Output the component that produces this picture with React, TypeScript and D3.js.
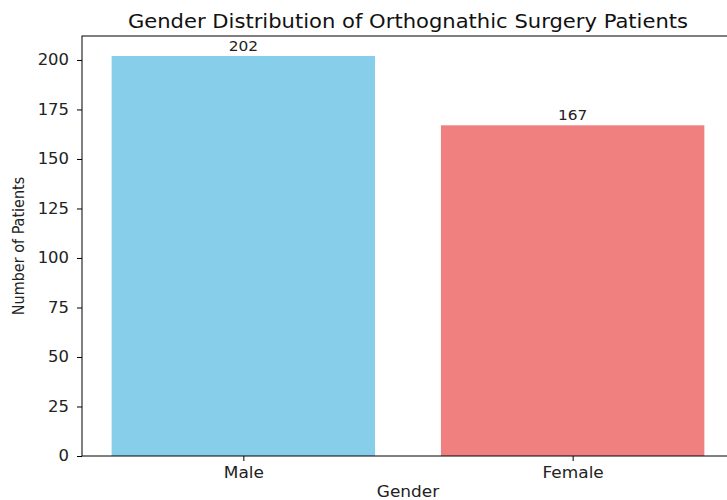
import React, { useEffect, useRef } from 'react';
import * as d3 from 'd3';

const genders = ['Male', 'Female'];
const patientCounts = [202, 167];
const barColors = ['#87CEEB', '#F08080'];
const yTicks = [0, 25, 50, 75, 100, 125, 150, 175, 200];

export default function App() {
  const ref = useRef<SVGSVGElement>(null);

  useEffect(() => {
    const svg = d3.select(ref.current);
    svg.selectAll('*').remove();

    const left = 82;
    const right = 734;
    const top = 36;
    const bottom = 456;
    const font = 'DejaVu Sans, sans-serif';
    const textColor = '#222';
    const stretch = 'scale(1.06,1)'; // the reference text is a bit wide

    // numeric x like matplotlib: bars at 0 and 1, width 0.8
    const x = d3.scaleLinear().domain([-0.49, 1.49]).range([left, right]);
    const y = d3.scaleLinear().domain([0, d3.max(patientCounts)! * 1.05]).range([bottom, top]);

    const g = svg.append('g');

    g.selectAll('rect')
      .data(patientCounts)
      .enter().append('rect')
      .attr('x', (d, i) => x(i - 0.4))
      .attr('width', x(0.4) - x(-0.4))
      .attr('y', d => y(d))
      .attr('height', d => y(0) - y(d))
      .attr('fill', (d, i) => barColors[i]);

    g.selectAll('text.val')
      .data(patientCounts)
      .enter().append('text')
      .attr('class', 'val')
      .attr('transform', (d, i) => `translate(${x(i)},${y(d) - 5}) ${stretch}`)
      .attr('text-anchor', 'middle')
      .attr('font-family', font)
      .attr('font-size', 14.5)
      .attr('fill', textColor)
      .text(d => d);

    // spines
    g.append('rect')
      .attr('x', left)
      .attr('y', top)
      .attr('width', right - left)
      .attr('height', bottom - top)
      .attr('fill', 'none')
      .attr('stroke', '#000')
      .attr('stroke-width', 1);

    const yAxis = g.append('g')
      .attr('transform', `translate(${left},0)`)
      .call(d3.axisLeft(y).tickValues(yTicks).tickSize(5).tickPadding(8));
    yAxis.select('.domain').remove();
    yAxis.selectAll('text').attr('font-family', font).attr('font-size', 15.5).attr('fill', textColor)
      .attr('transform', 'translate(-13,0) scale(1.06,1) translate(13,0)');

    const xAxis = g.append('g')
      .attr('transform', `translate(0,${bottom})`)
      .call(d3.axisBottom(x).tickValues([0, 1]).tickFormat((d, i) => genders[i]).tickSize(5).tickPadding(6));
    xAxis.select('.domain').remove();
    xAxis.selectAll('text').attr('font-family', font).attr('font-size', 16).attr('fill', textColor)
      .attr('transform', stretch);

    svg.append('text')
      .attr('transform', `translate(${(left + right) / 2},28) scale(1.055,1)`)
      .attr('text-anchor', 'middle')
      .attr('font-family', font)
      .attr('font-size', 20)
      .attr('fill', '#111')
      .text('Gender Distribution of Orthognathic Surgery Patients');

    svg.append('text')
      .attr('transform', `translate(${(left + right) / 2},497) ${stretch}`)
      .attr('text-anchor', 'middle')
      .attr('font-family', font)
      .attr('font-size', 16)
      .attr('fill', textColor)
      .text('Gender');

    svg.append('text')
      .attr('transform', `translate(24,${(top + bottom) / 2}) rotate(-90)`)
      .attr('text-anchor', 'middle')
      .attr('font-family', 'DejaVu Sans Condensed, DejaVu Sans, sans-serif')
      .attr('font-size', 16)
      .attr('font-stretch', 'condensed')
      .attr('fill', textColor)
      .text('Number of Patients');
  }, []);

  return (
    <svg ref={ref} width={727} height={500}
      style={{ position: 'absolute', left: 0, top: 0, background: '#fff' }} />
  );
}
